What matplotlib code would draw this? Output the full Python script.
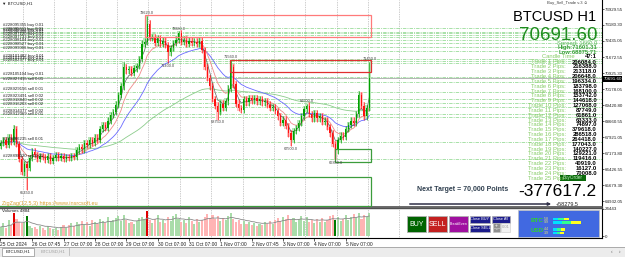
import matplotlib.pyplot as plt
import matplotlib.patches as mpatches
import numpy as np

plt.rcParams['font.family'] = ['Liberation Sans', 'DejaVu Sans']

# velas de 2 horas, la primera abre el 25 Oct 06:00
closes = [67650, 67800, 67550, 67900, 67700, 68300, 67600, 66900, 66300, 66650,
          66500, 66950, 67250, 67100, 66900, 67050, 67000, 66850, 67050, 66800,
          66950, 67100, 66950, 67050, 66900, 67000, 66950, 67050, 67000, 67300,
          67450, 67350, 67650, 67550, 67800, 67650, 67900, 67800, 68300, 68500,
          68350, 68700, 68950, 69100, 69450, 69900, 70300, 71200, 71050, 71100,
          70950, 71150, 71250, 71600, 72300, 72400, 73250, 72600, 72600, 72350,
          72550, 72300, 72450, 72250, 71900, 72100, 72350, 72500, 72800, 72400,
          72500, 72300, 72450, 72350, 72400, 72300, 72450, 72000, 71200, 70700,
          70300, 69700, 69400, 69100, 69500, 69300, 69600, 70200, 71200, 70400,
          69500, 69300, 69200, 69700, 69550, 69750, 69650, 69750, 69600, 69700,
          69550, 69600, 69450, 69300, 69350, 69150, 68900, 68600, 68750, 68450,
          68100, 67800, 68200, 68350, 68600, 68900, 69250, 69400, 69000, 68800,
          69050, 68800, 68900, 68650, 68700, 68400, 68100, 67600, 67300, 67800,
          68000, 67950, 68300, 68500, 68700, 68600, 69000, 69900, 69400, 68900,
          69300, 70691.6]
first_open = 67500
wick = 150
high_over = {5: 68500, 47: 71450, 54: 72500, 56: 73620, 68: 72880, 88: 71560,
             117: 69500, 137: 70100, 141: 71450}
low_over = {9: 66100, 10: 65450, 64: 71400, 83: 68750, 111: 67500, 128: 66850}

volumes = [8200, 11500, 7600, 14800, 10400, 21000, 15200, 13100, 11800, 12600,
           17800, 9300, 7200, 8400, 6300, 9100, 6900, 5800, 8700, 7400,
           6100, 7300, 5400, 8200, 9600, 6800, 10200, 11700, 8900, 12800,
           10600, 13900, 9800, 12300, 8800, 14600, 12700, 10900, 15800, 13600,
           11900, 16800, 13200, 14700, 16300, 17900, 13800, 19200, 14900, 11700,
           12800, 10900, 13700, 15900, 16800, 15300, 22600, 14100, 11600, 15800,
           18700, 12900, 14800, 11800, 16900, 13700, 18300, 19800, 15600, 12700,
           14900, 11800, 17600, 13900, 10800, 15700, 12600, 14800, 17300, 19600,
           16200, 18900, 15300, 17700, 13200, 16100, 14300, 17900, 20400, 15600,
           12800, 14700, 11300, 13800, 10600, 12900, 9800, 11900, 8700, 10800,
           9600, 12300, 10700, 13600, 11200, 14900, 16700, 13800, 17400, 15100,
           18800, 14300, 16600, 12900, 15800, 17900, 13600, 16800, 12400, 14900,
           11700, 15600, 13100, 16400, 12800, 14700, 17800, 19100, 14200, 16900,
           13700, 15800, 18600, 14900, 17300, 19800, 16400, 21200, 15700, 18900,
           17600, 20700]
vol_strong = {5: '#e00000', 10: '#007a00', 56: '#e00000', 128: '#007a00'}
vol_max_label = 24443
vol_title_value = 4884

pivot_hi = [56, 68, 88, 117, 141]
pivot_lo = [10, 64, 83, 111, 128]

price_ticks = [73929.55, 73180.30, 72435.05, 71672.55, 70925.30, 70178.05, 69420.80,
               68660.55, 67921.05, 67173.80, 66426.55, 65679.30, 64932.05]
day_labels = ['25 Oct 2024', '26 Oct 07:45', '27 Oct 07:00', '28 Oct 07:00', '29 Oct 07:00',
              '30 Oct 07:00', '31 Oct 07:00', '1 Nov 07:00', '2 Nov 07:45', '3 Nov 07:00',
              '4 Nov 07:00', '5 Nov 07:00']

order_price = [73039, 72852, 72805, 72711, 72617, 72477, 72336, 72149, 71961, 71587,
               71493, 71399, 70760, 70509, 70040, 69712, 69525, 69337, 69009, 68869,
               67697, 66900]
order_side = ['buy'] * 13 + ['sell'] * 9
order_lots = [0.01] * 15 + [0.02, 0.02, 0.02, 0.02, 0.01, 0.01, 0.01]
order_ticket = [228095355, 228095611, 228096012, 228096458, 228097120, 228097733,
                228098104, 228098527, 228099006, 228101482, 228101915, 228102377,
                228105104, 228927415, 228929156, 228923491, 228918840, 228916203,
                228914377, 228912069, 228906235, 228898120]

zone_t0 = [111.5, 176.5, 256.5, -10]
zone_t1 = [284.5, 284.5, 284.5, 284.5]
zone_lo = [72617, 70977, 66760, 64698]
zone_hi = [73648, 71540, 67369, 66057]
zone_col = ['#ff7a7a', '#e03030', '#3c9c3c', '#3c9c3c']

trade_pips = [206084.0, 216388.0, 213118.0, 206648.0, 196334.0, 183798.0, 168100.0,
              153742.0, 144618.0, 127068.0, 87749.0, 61861.0, 63333.0, 74897.0,
              379618.0, 286518.0, 264418.0, 177043.0, 140227.0, 129221.0, 119416.0,
              40919.0, 16127.0, 70008.0]
info_spread = 1660.0
info_high = 71601.31
info_low = 68875.71
candle_time = '47:1'
next_target = '70,000'
profit_total = -377617.2
profit_today = 58279.5
meter_btc = [5.8, 9.9]
meter_usd = [4.4, 3.9]

# ---------------------------------------------------------------
n = len(closes)
t = np.arange(n) * 2 + 1.0
opens = [first_open] + closes[:-1]
highs = [high_over.get(i, max(opens[i], closes[i]) + wick) for i in range(n)]
lows = [low_over.get(i, min(opens[i], closes[i]) - wick) for i in range(n)]
up = [closes[i] >= opens[i] for i in range(n)]


def ema(vals, span):
    a = 2.0 / (span + 1)
    out = [vals[0]]
    for v in vals[1:]:
        out.append(out[-1] + a * (v - out[-1]))
    return out


def px2t(x):
    return (x + 0.52) / 1.3068


def py2p(y):
    return 73929.55 - (y - 9) * 46.86


fig = plt.figure(figsize=(6.25, 2.57), dpi=100)
fig.patch.set_facecolor('white')

ax = fig.add_axes([0, 50 / 257, 602 / 625, 207 / 257])
axv = fig.add_axes([0, 19 / 257, 602 / 625, 30 / 257])
for a in (ax, axv):
    a.set_xlim(px2t(0), px2t(602))
    for k in range(13):
        a.axvline(18 + 24 * k, color='#9a9a9a', lw=0.5, ls=(0, (1, 1.5)), zorder=0)
ax.set_ylim(py2p(207), py2p(0))

# lineas de ordenes
for p, s, l, tk in zip(order_price, order_side, order_lots, order_ticket):
    ax.axhline(p, color='#86d486', lw=0.5, ls=(0, (5, 1.5, 1.5, 1.5)), zorder=1)
    ax.text(px2t(3), p + 25, f'#{tk} {s} {l:.2f}', fontsize=3.1, color='#202020',
            va='bottom', ha='left', zorder=6)
ax.axhline(closes[-1], color='#a8a8a8', lw=0.6, zorder=1)

# zonas
for t0, t1, lo, hi, c in zip(zone_t0, zone_t1, zone_lo, zone_hi, zone_col):
    ax.add_patch(mpatches.Rectangle((t0, lo), t1 - t0, hi - lo, fill=False,
                                    ec=c, lw=0.9, zorder=4))

# medias moviles
ax.plot(t, ema(closes, 80), color='#8ccc8c', lw=0.6, zorder=2)
ax.plot(t, ema(closes, 22), color='#6a6aff', lw=0.6, zorder=2)
ax.plot(t, ema(closes, 9), color='#f08a8a', lw=0.6, zorder=2)
ax.plot(t, ema(closes, 4), color='#606060', lw=0.5, zorder=2)

# velas
col = ['#00a000' if u else '#ff1010' for u in up]
pale = ['#b8e6b8' if u else '#ffc0c0' for u in up]
bot = [min(o, c) for o, c in zip(opens, closes)]
hgt = [max(abs(c - o), 40) for o, c in zip(opens, closes)]
ax.bar(t, [h - l for h, l in zip(highs, lows)], bottom=lows, width=1.9, color=pale,
       zorder=1.5)
ax.vlines(t, lows, highs, colors=col, lw=0.45, zorder=3)
ax.bar(t, hgt, bottom=bot, width=0.95, color=col, zorder=3)

# etiquetas zigzag
for i in pivot_hi:
    ax.text(t[i], highs[i] + 40, f'{highs[i]:.1f}', fontsize=2.8, color='#404040',
            ha='center', va='bottom', zorder=6)
for i in pivot_lo:
    ax.text(t[i], lows[i] - 40, f'{lows[i]:.1f}', fontsize=2.8, color='#404040',
            ha='center', va='top', zorder=6)

ax.yaxis.tick_right()
ax.set_yticks(price_ticks, [f'{v:.2f}' for v in price_ticks])
ax.tick_params(axis='y', labelsize=3.2, length=1.5, width=0.5, pad=0.8, colors='#202020')
ax.set_xticks([])
for s in ('left', 'top'):
    ax.spines[s].set_visible(False)
ax.spines['right'].set_color('black')
ax.spines['right'].set_linewidth(0.8)
ax.spines['bottom'].set_color('#505050')
ax.spines['bottom'].set_linewidth(1.2)

# volumenes
vcol = ['#a9dca9' if u else '#ffb4b4' for u in up]
for i, c in vol_strong.items():
    vcol[i] = c
axv.bar(t, volumes, width=1.6, color=vcol, zorder=2)
axv.plot(t, ema(volumes, 10), color='#8a8a8a', lw=0.6, zorder=3)
axv.set_ylim(-1810, 25348)
axv.yaxis.tick_right()
axv.set_yticks([0, vol_max_label], ['0', str(vol_max_label)])
axv.tick_params(axis='y', labelsize=3.2, length=1.5, width=0.5, pad=0.8, colors='#202020')
label_t = [0.5] + [18 + 24 * k + 7 for k in range(len(day_labels) - 1)]
axv.set_xticks(label_t, day_labels, ha='left')
axv.tick_params(axis='x', labelsize=3.5, length=2, width=0.5, pad=1, colors='#202020')
axv.spines['left'].set_visible(False)
axv.spines['top'].set_color('#505050')
axv.spines['top'].set_linewidth(1.0)
for s in ('right', 'bottom'):
    axv.spines[s].set_color('black')
    axv.spines[s].set_linewidth(0.8)

# capa de interfaz en pixeles
ov = fig.add_axes([0, 0, 1, 1], zorder=10)
ov.set_xlim(0, 625)
ov.set_ylim(257, 0)
ov.axis('off')
ov.patch.set_alpha(0)

ov.text(2, 3.5, '\u25bc BTCUSD,H1', fontsize=3.2, va='center', color='#202020')
ov.text(588, 3, 'Buy_Sell_Trade v.3 \u263a', fontsize=3, va='center', ha='right',
        color='#404040')
ov.text(2, 203.5, 'ZigZag(12,5,3) https://www.insrcsoft.eu', fontsize=4, color='#d8a030',
        va='center')
ov.text(2, 211.5, f'Volumes {vol_title_value}', fontsize=3.2, va='center', color='#202020')
ov.text(603.3, 79, f'{closes[-1]:.2f}', fontsize=3.2, color='white', va='center',
        bbox=dict(boxstyle='square,pad=0.15', fc='black', ec='none'))

ov.text(596, 17, 'BTCUSD H1', fontsize=10.5, ha='right', va='center', color='black')
ov.text(597, 43, f'Spread: {info_spread:.1f}', fontsize=4.2, ha='right', va='center',
        color='#5cb85c')
ov.text(597, 35, f'{closes[-1]:.2f}', fontsize=13.5, ha='right', va='center',
        color='#1e8c1e')
ov.text(597, 47.5, f'High:{info_high:.2f}', fontsize=4.2, ha='right', va='center',
        color='#3aa03a', fontweight='bold')
ov.text(597, 52, f'Low:{info_low:.2f}', fontsize=4.2, ha='right', va='center',
        color='#3aa03a', fontweight='bold')
ov.text(575, 57, 'Candle Time', fontsize=4.2, ha='right', va='center', color='#86cc66')
ov.text(597, 57, candle_time, fontsize=4.2, ha='right', va='center', color='black',
        fontweight='bold')
for k in range(25):
    y = 62 + 4.84 * k
    ov.text(566, y, f'Trade {k + 1} Pips:', fontsize=4.2, ha='right', va='center',
            color='#86cc66')
    if k < len(trade_pips):
        ov.text(597, y, f'{trade_pips[k]:.1f}', fontsize=4.2, ha='right', va='center',
                color='black', fontweight='bold')
ov.add_patch(mpatches.Rectangle((560, 175), 26, 6, fc='#0a6a0a', ec='none'))
ov.text(573, 178, 'BuyOrder', fontsize=3.3, ha='center', va='center', color='#c8f0c8')

ov.text(417, 189.5, f'Next Target = {next_target} Points', fontsize=5, fontweight='bold',
        color='#2f3f4f', va='center')
ov.text(596, 191, f'{profit_total:.1f}', fontsize=12.5, ha='right', va='center',
        color='black')
ov.annotate('', xy=(554, 204), xytext=(407, 204),
            arrowprops=dict(arrowstyle='-|>', color='#303048', lw=1.1, mutation_scale=4))
ov.text(556, 204, f'+{profit_today:.1f}', fontsize=4, va='center', color='#202020')

# botones
buttons = [('BUY', 407, '#006400'), ('SELL', 428, '#c42020'), ('BreakEven', 449, '#a010a0')]
for name, x0, c in buttons:
    ov.add_patch(mpatches.Rectangle((x0, 216), 19, 16, fc=c, ec='#b0b0b0', lw=0.6))
    ov.text(x0 + 9.5, 224, name, fontsize=5 if len(name) < 5 else 2.6, color='white',
            ha='center', va='center')
for name, x0, y0, w in [('Close BUY', 470, 216, 20), ('Close SELL', 470, 225, 20),
                        ('Close All', 492, 216, 18)]:
    ov.add_patch(mpatches.Rectangle((x0, y0), w, 6.5, fc='#1c1c8c', ec='#b0b0b0', lw=0.5))
    ov.text(x0 + w / 2, y0 + 3.3, name, fontsize=2.8, color='white', ha='center',
            va='center')
for sym, y0 in [('+', 223), ('-', 227.5)]:
    ov.add_patch(mpatches.Rectangle((493, y0), 6.5, 4.5, fc='#909090', ec='#c0c0c0', lw=0.4))
    ov.text(496.2, y0 + 2.2, sym, fontsize=3.5, color='white', ha='center', va='center')
ov.add_patch(mpatches.Rectangle((501, 223), 9, 9, fc='#f2f2f2', ec='#c8c8c8', lw=0.4))
ov.text(505.5, 227.5, '0.01', fontsize=3, color='#a0a0a0', ha='center', va='center')

ov.add_patch(mpatches.Rectangle((518, 210), 81, 27, fc='#4169e1', ec='#c0c0c0', lw=0.5))
seg_cols = ['#00e0ff', '#30ff90', '#ffff20']
for name, vals, yc in [('BTC', meter_btc, 220.5), ('USD', meter_usd, 231)]:
    ov.text(531, yc, name, fontsize=4.6, color='#30d030', fontweight='bold', va='center')
    for j, v in enumerate(vals):
        yy = yc - 3 + j * 3.6
        ov.text(544, yy + 1.2, f'{v:.1f}', fontsize=2.6, color='#e8e070', va='center')
        L = v / 10 * 28
        for s in range(3):
            ov.add_patch(mpatches.Rectangle((553 + s * L / 3, yy), L / 3, 2.6,
                                            fc=seg_cols[s], ec='none'))

# barra de pestanas
ov.add_patch(mpatches.Rectangle((0, 247), 625, 10, fc='#ececec', ec='none'))
ov.plot([0, 625], [247, 247], color='#a0a0a0', lw=0.6)
ov.add_patch(mpatches.Rectangle((2, 247.5), 32, 8, fc='white', ec='#909090', lw=0.5))
ov.text(18, 251.5, 'BTCUSD,H1', fontsize=3.2, ha='center', va='center', color='#202020')
ov.text(53, 251.5, 'BTCUSD,H1', fontsize=3.2, ha='center', va='center', color='#a0a0a0')
ov.plot([69, 69], [248, 255], color='#b0b0b0', lw=0.5)
ov.text(612, 251.5, '\u2039', fontsize=3.5, ha='center', va='center', color='#606060')
ov.text(620, 251.5, '\u203a', fontsize=3.5, ha='center', va='center', color='#606060')

fig.savefig('out.png', dpi=100)
